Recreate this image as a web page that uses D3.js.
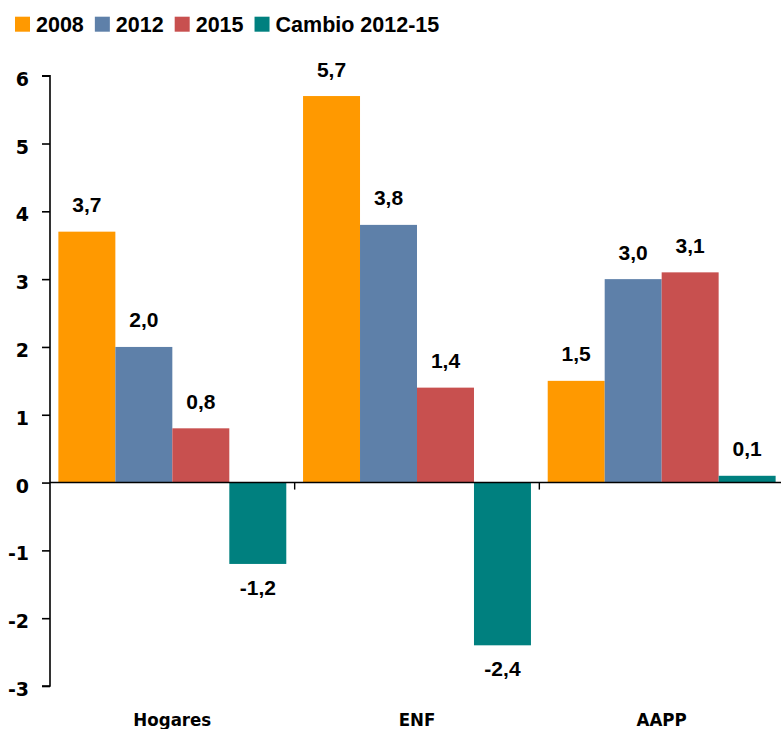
<!DOCTYPE html>
<html>
<head>
<meta charset="utf-8">
<script src="https://cdn.jsdelivr.net/npm/d3@7"></script>
<style>
  html, body { margin: 0; padding: 0; background: #fff; }
  svg { display: block; }
</style>
</head>
<body>
<svg id="chart" width="781" height="729"></svg>
<script>
const categories = ["Hogares", "ENF", "AAPP"];
const seriesNames = ["2008", "2012", "2015", "Cambio 2012-15"];
const values2008 = [3.7, 5.7, 1.5];
const values2012 = [2.0, 3.8, 3.0];
const values2015 = [0.8, 1.4, 3.1];
const valuesCambio = [-1.2, -2.4, 0.1];
const yTicks = [-3, -2, -1, 0, 1, 2, 3, 4, 5, 6];
const colors = ["#FF9900", "#5E80A9", "#C8504F", "#00807F"];

const seriesValues = [values2008, values2012, values2015, valuesCambio];
const data = categories.map((c, i) => ({
  cat: c,
  vals: seriesNames.map((s, j) => ({ s, j, v: seriesValues[j][i] }))
}));

const svg = d3.select("#chart");
const axisX = 50;
const y = d3.scaleLinear().domain([-3, 6]).range([686, 75.7]);
const x0 = d3.scaleBand().domain(categories).range([axisX, 784]).paddingInner(0).paddingOuter(0);
const x1 = d3.scaleBand().domain(seriesNames).range([0, x0.bandwidth()]).paddingInner(0).paddingOuter(0.147);

const fmt = v => d3.format(".1f")(v).replace(".", ",").replace("\u2212", "-");

// bars
const g = svg.append("g");
const groups = g.selectAll("g.grp").data(data).enter().append("g")
  .attr("transform", d => `translate(${x0(d.cat)},0)`);
groups.selectAll("rect").data(d => d.vals).enter().append("rect")
  .attr("x", d => x1(d.s))
  .attr("width", x1.bandwidth())
  .attr("y", d => y(Math.max(0, d.v)))
  .attr("height", d => Math.abs(y(d.v) - y(0)))
  .attr("fill", d => colors[d.j]);

// value labels
groups.selectAll("text").data(d => d.vals).enter().append("text")
  .attr("x", d => x1(d.s) + x1.bandwidth() / 2)
  .attr("y", d => d.v >= 0 ? y(d.v) - 19.5 : y(d.v) + 31)
  .attr("text-anchor", "middle")
  .style("font-family", "'Liberation Sans', Arial, sans-serif")
  .style("font-weight", "bold")
  .style("font-size", "21px")
  .attr("fill", "#000")
  .text(d => fmt(d.v));

// y axis
const yAxis = d3.axisLeft(y).tickValues(yTicks).tickSize(8).tickPadding(13)
  .tickFormat(d => String(d).replace("\u2212", "-"));
const ya = svg.append("g").attr("transform", `translate(${axisX},0)`).call(yAxis);
ya.select(".domain").attr("d", `M-8,${y(6)}H0V${y(-3)}H-8`).attr("stroke", "#000").attr("stroke-width", 1.6);
ya.selectAll(".tick line").attr("stroke", "#000").attr("stroke-width", 1.6);
ya.selectAll(".tick text")
  .attr("dy", "0.32em")
  .attr("y", 3.5)
  .style("font-family", "'DejaVu Sans', Verdana, sans-serif")
  .style("font-weight", "bold")
  .style("font-size", "19px")
  .attr("fill", "#000");

// x axis (category) at zero
const xa = svg.append("g").attr("transform", `translate(0,${y(0)})`);
xa.append("line").attr("x1", axisX).attr("x2", 781).attr("y1", 0).attr("y2", 0)
  .attr("stroke", "#000").attr("stroke-width", 1.4);
// category boundary ticks
xa.selectAll("line.bt").data(categories.slice(1)).enter().append("line")
  .attr("x1", d => x0(d)).attr("x2", d => x0(d))
  .attr("y1", 0).attr("y2", 7)
  .attr("stroke", "#000").attr("stroke-width", 1.4);

// category labels at the bottom
svg.append("g").selectAll("text").data(categories).enter().append("text")
  .attr("x", d => x0(d) + x0.bandwidth() / 2)
  .attr("y", 726)
  .attr("text-anchor", "middle")
  .style("font-family", "'DejaVu Sans Condensed', 'DejaVu Sans', sans-serif")
  .style("font-stretch", "condensed")
  .style("font-weight", "bold")
  .style("font-size", "18.5px")
  .attr("fill", "#000")
  .text(d => d);

// legend
const leg = svg.append("g");
let lx = 15;
seriesNames.forEach((s, j) => {
  leg.append("rect").attr("x", lx).attr("y", 16.7).attr("width", 15).attr("height", 15).attr("fill", colors[j]);
  const t = leg.append("text")
    .attr("x", lx + 21).attr("y", 31.7)
    .style("font-family", "'Liberation Sans', Arial, sans-serif")
    .style("font-weight", "bold")
    .style("font-size", "21.5px")
    .attr("fill", "#000")
    .text(s);
  const w = t.node().getComputedTextLength();
  lx = lx + 21 + w + 11;
});
</script>
</body>
</html>
